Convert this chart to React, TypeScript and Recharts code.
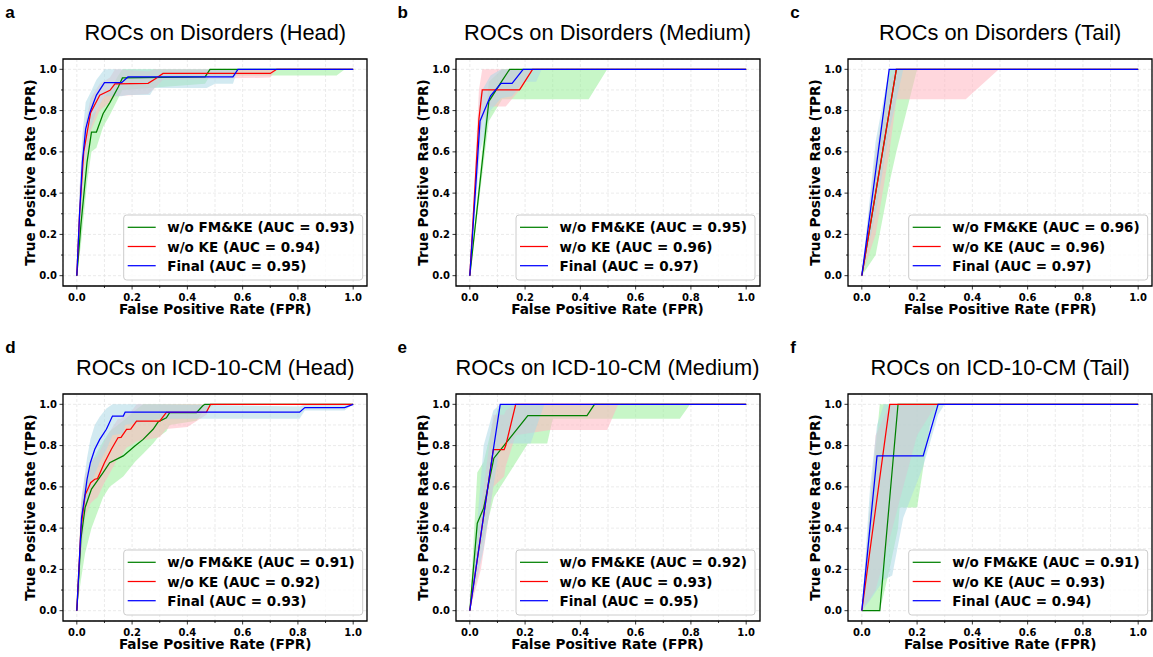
import {
  ComposedChart,
  Line,
  Area,
  XAxis,
  YAxis,
  CartesianGrid,
  ReferenceArea,
} from "recharts";

// each row: [fpr, mean tpr, lower band, upper band]
type Row = [number, number, number, number];

const aGreen: Row[] = [
  [0, 0, 0, 0], [0.015, 0.25, 0.15, 0.35], [0.037, 0.55, 0.45, 0.65], [0.053, 0.696, 0.6, 0.78],
  [0.071, 0.696, 0.62, 0.8], [0.095, 0.785, 0.72, 0.86], [0.12, 0.84, 0.78, 0.9], [0.15, 0.914, 0.86, 0.97],
  [0.165, 0.958, 0.9, 1], [0.464, 0.963, 0.93, 1], [0.482, 1, 0.97, 1], [0.94, 1, 0.97, 1],
  [0.97, 1, 1, 1], [1, 1, 1, 1],
];
const aRed: Row[] = [
  [0, 0, 0, 0], [0.01, 0.3, 0.2, 0.42], [0.025, 0.6, 0.5, 0.7], [0.05, 0.79, 0.7, 0.86],
  [0.083, 0.875, 0.8, 0.93], [0.12, 0.898, 0.84, 0.96], [0.138, 0.93, 0.87, 1], [0.258, 0.932, 0.88, 0.99],
  [0.283, 0.953, 0.91, 1], [0.312, 0.98, 0.95, 1], [0.7, 0.98, 0.96, 1], [0.723, 1, 1, 1], [1, 1, 1, 1],
];
const aBlue: Row[] = [
  [0, 0, 0, 0], [0.01, 0.3, 0.2, 0.42], [0.02, 0.55, 0.42, 0.68], [0.032, 0.71, 0.6, 0.84],
  [0.047, 0.79, 0.7, 0.88], [0.071, 0.875, 0.8, 0.95], [0.1, 0.935, 0.87, 1], [0.162, 0.935, 0.87, 1],
  [0.185, 0.963, 0.875, 1], [0.265, 0.963, 0.875, 1], [0.28, 0.963, 0.91, 1], [0.47, 0.963, 0.91, 1],
  [0.5, 0.963, 0.93, 1], [0.565, 0.963, 0.93, 1], [0.583, 1, 1, 1], [1, 1, 1, 1],
];

const bGreen: Row[] = [
  [0, 0, 0, 0], [0.069, 0.845, 0.75, 0.94], [0.117, 0.945, 0.855, 1], [0.144, 1, 0.855, 1],
  [0.43, 1, 0.855, 1], [0.497, 1, 1, 1], [1, 1, 1, 1],
];
const bRed: Row[] = [
  [0, 0, 0, 0], [0.033, 0.76, 0.6, 0.9], [0.045, 0.9, 0.75, 1], [0.075, 0.9, 0.82, 1],
  [0.13, 0.9, 0.82, 1], [0.18, 0.9, 0.9, 1], [0.227, 1, 1, 1], [1, 1, 1, 1],
];
const bBlue: Row[] = [
  [0, 0, 0, 0], [0.037, 0.75, 0.6, 0.88], [0.075, 0.872, 0.8, 0.97], [0.113, 0.932, 0.86, 1],
  [0.153, 0.932, 0.87, 1], [0.193, 1, 0.94, 1], [0.24, 1, 0.94, 1], [0.26, 1, 1, 1], [1, 1, 1, 1],
];

const cGreen: Row[] = [
  [0, 0, 0, 0], [0.05, 0.4, 0.1, 0.55], [0.1, 0.8, 0.45, 1], [0.125, 1, 0.6, 1],
  [0.2, 1, 1, 1], [1, 1, 1, 1],
];
const cRed: Row[] = [
  [0, 0, 0, 0], [0.05, 0.4, 0.2, 0.6], [0.1, 0.8, 0.6, 0.95], [0.125, 1, 0.855, 1],
  [0.376, 1, 0.855, 1], [0.496, 1, 1, 1], [1, 1, 1, 1],
];
const cBlue: Row[] = [
  [0, 0, 0, 0], [0.05, 0.505, 0.3, 0.65], [0.099, 1, 0.7, 1], [0.15, 1, 1, 1], [1, 1, 1, 1],
];

const dGreen: Row[] = [
  [0, 0, 0, 0], [0.015, 0.35, 0.15, 0.5], [0.03, 0.5, 0.28, 0.62], [0.053, 0.589, 0.4, 0.72],
  [0.095, 0.669, 0.55, 0.82], [0.119, 0.717, 0.6, 0.87], [0.168, 0.75, 0.65, 0.92], [0.21, 0.798, 0.72, 0.97],
  [0.24, 0.83, 0.76, 1], [0.276, 0.879, 0.81, 1], [0.294, 0.914, 0.84, 1], [0.324, 0.935, 0.87, 1],
  [0.336, 0.96, 0.9, 1], [0.433, 0.96, 0.92, 1], [0.455, 0.992, 0.96, 1], [0.463, 1, 0.97, 1],
  [0.5, 1, 1, 1], [1, 1, 1, 1],
];
const dRed: Row[] = [
  [0, 0, 0, 0], [0.015, 0.4, 0.28, 0.52], [0.03, 0.56, 0.45, 0.66], [0.05, 0.62, 0.52, 0.72],
  [0.065, 0.637, 0.54, 0.74], [0.075, 0.64, 0.55, 0.75], [0.1, 0.717, 0.62, 0.82], [0.125, 0.782, 0.68, 0.88],
  [0.149, 0.838, 0.74, 0.93], [0.16, 0.84, 0.75, 0.93], [0.18, 0.879, 0.79, 0.96], [0.195, 0.88, 0.8, 0.96],
  [0.216, 0.919, 0.82, 1], [0.3, 0.919, 0.84, 1], [0.324, 0.961, 0.88, 1], [0.4, 0.961, 0.89, 1],
  [0.469, 0.962, 0.95, 1], [0.484, 1, 1, 1], [1, 1, 1, 1],
];
const dBlue: Row[] = [
  [0, 0, 0, 0], [0.017, 0.45, 0.3, 0.55], [0.029, 0.556, 0.45, 0.66], [0.037, 0.637, 0.53, 0.74],
  [0.049, 0.717, 0.6, 0.83], [0.065, 0.782, 0.66, 0.9], [0.083, 0.83, 0.72, 0.94], [0.107, 0.879, 0.78, 0.98],
  [0.129, 0.943, 0.85, 1], [0.168, 0.943, 0.86, 1], [0.175, 0.962, 0.9, 1], [0.3, 0.962, 0.93, 1],
  [0.806, 0.962, 0.93, 0.99], [0.825, 0.984, 0.97, 1], [0.969, 0.984, 0.97, 1], [1, 1, 1, 1],
];

const eGreen: Row[] = [
  [0, 0, 0, 0], [0.027, 0.424, 0.25, 0.67], [0.05, 0.497, 0.35, 0.72], [0.087, 0.739, 0.55, 0.93],
  [0.111, 0.779, 0.6, 1], [0.21, 0.945, 0.81, 1], [0.28, 0.945, 0.81, 1], [0.3, 0.945, 0.93, 1],
  [0.424, 0.945, 0.93, 1], [0.451, 1, 0.93, 1], [0.76, 1, 0.93, 1], [0.797, 1, 1, 1], [1, 1, 1, 1],
];
const eRed: Row[] = [
  [0, 0, 0, 0], [0.04, 0.367, 0.2, 0.5], [0.085, 0.78, 0.6, 0.95], [0.124, 0.78, 0.65, 0.95],
  [0.13, 0.8, 0.7, 0.97], [0.166, 1, 0.85, 1], [0.29, 1, 0.876, 1], [0.497, 1, 0.876, 1],
  [0.537, 1, 1, 1], [1, 1, 1, 1],
];
const eBlue: Row[] = [
  [0, 0, 0, 0], [0.05, 0.46, 0.3, 0.8], [0.085, 0.78, 0.6, 0.97], [0.11, 1, 0.81, 1],
  [0.22, 1, 0.81, 1], [0.27, 1, 1, 1], [1, 1, 1, 1],
];

const fGreen: Row[] = [
  [0, 0, 0, 0], [0.03, 0, 0, 0.5], [0.065, 0, 0, 1], [0.1, 0.53, 0.2, 1], [0.131, 1, 0.4, 1],
  [0.137, 1, 0.5, 1], [0.2, 1, 0.5, 1], [0.246, 1, 0.9, 1], [0.28, 1, 1, 1], [1, 1, 1, 1],
];
const fRed: Row[] = [
  [0, 0, 0, 0], [0.05, 0.495, 0.1, 0.85], [0.101, 1, 0.35, 1], [0.15, 1, 0.6, 1],
  [0.2, 1, 0.85, 1], [0.27, 1, 1, 1], [1, 1, 1, 1],
];
const fBlue: Row[] = [
  [0, 0, 0, 0], [0.03, 0.41, 0.05, 0.6], [0.055, 0.75, 0.1, 0.9], [0.08, 0.75, 0.15, 1],
  [0.11, 0.75, 0.17, 1], [0.15, 0.75, 0.45, 1], [0.222, 0.75, 0.7, 1], [0.276, 1, 0.95, 1],
  [0.3, 1, 1, 1], [1, 1, 1, 1],
];

const aAuc = ["0.93", "0.94", "0.95"];
const bAuc = ["0.95", "0.96", "0.97"];
const cAuc = ["0.96", "0.96", "0.97"];
const dAuc = ["0.91", "0.92", "0.93"];
const eAuc = ["0.92", "0.93", "0.95"];
const fAuc = ["0.91", "0.93", "0.94"];

const seriesNames = ["w/o FM&KE", "w/o KE", "Final"];
const lineColors = ["#008000", "#ff0000", "#0000ff"];
const bandColors = ["#90ee90", "#ffb6c1", "#add8e6"];
const bandOpacity = [0.5, 0.55, 0.55];

const TICKS = [0, 0.1, 0.2, 0.3, 0.4, 0.5, 0.6, 0.7, 0.8, 0.9, 1];
const DOMAIN: [number, number] = [-0.05, 1.05];

// chart geometry (plot area is PLOT_W x PLOT_H)
const PAD_L = 60;
const PAD_T = 50;
const PAD_R = 26;
const PAD_B = 30;
const PLOT_W = 304;
const PLOT_H = 227;

const TICK_FONT = "'DejaVu Sans', sans-serif";
const TITLE_FONT = "'Liberation Sans', Arial, sans-serif";

function toPoints(rows: Row[]) {
  return rows.map(([x, y, lo, hi]) => ({ x, y, band: [lo, hi] }));
}

function isMajor(v: number) {
  return Math.round(v * 10) % 2 === 0;
}

// eslint-disable-next-line @typescript-eslint/no-explicit-any
function XTick({ x, y, payload }: any) {
  const major = isMajor(payload.value);
  return (
    <g>
      <line x1={x} x2={x} y1={y} y2={y + (major ? 3.5 : 2)} stroke="#000" strokeWidth={0.8} />
      {major && (
        <text x={x} y={y + 15} textAnchor="middle" fontFamily={TICK_FONT} fontWeight="bold" fontSize={10} fill="#000">
          {payload.value.toFixed(1)}
        </text>
      )}
    </g>
  );
}

// eslint-disable-next-line @typescript-eslint/no-explicit-any
function YTick({ x, y, payload }: any) {
  const major = isMajor(payload.value);
  return (
    <g>
      <line x1={x} x2={x - (major ? 3.5 : 2)} y1={y} y2={y} stroke="#000" strokeWidth={0.8} />
      {major && (
        <text x={x - 6} y={y + 3.6} textAnchor="end" fontFamily={TICK_FONT} fontWeight="bold" fontSize={10} fill="#000">
          {payload.value.toFixed(1)}
        </text>
      )}
    </g>
  );
}

interface PanelProps {
  left: number; // plot area left, page px
  top: number; // plot area top, page px
  series: Row[][];
}

function RocPanel({ left, top, series }: PanelProps) {
  const pts = series.map(toPoints);
  return (
    <div style={{ position: "absolute", left: left - PAD_L, top: top - PAD_T }}>
      <ComposedChart
        width={PAD_L + PLOT_W + PAD_R}
        height={PAD_T + PLOT_H + PAD_B}
        margin={{ top: PAD_T, right: PAD_R, bottom: 0, left: 0 }}
      >
        <CartesianGrid stroke="#e2e2e2" strokeDasharray="3 2" strokeWidth={0.7} />
        <XAxis
          type="number"
          dataKey="x"
          domain={DOMAIN}
          ticks={TICKS}
          allowDataOverflow
          height={PAD_B}
          axisLine={false}
          tickLine={false}
          tickSize={0}
          tickMargin={0}
          tick={XTick}
          interval={0}
        />
        <YAxis
          type="number"
          domain={DOMAIN}
          ticks={TICKS}
          allowDataOverflow
          width={PAD_L}
          axisLine={false}
          tickLine={false}
          tickSize={0}
          tickMargin={0}
          tick={YTick}
          interval={0}
        />
        {pts.map((p, i) => (
          <Area
            key={`band-${i}`}
            data={p}
            dataKey="band"
            type="linear"
            stroke="none"
            fill={bandColors[i]}
            fillOpacity={bandOpacity[i]}
            dot={false}
            activeDot={false}
            isAnimationActive={false}
          />
        ))}
        {pts.map((p, i) => (
          <Line
            key={`line-${i}`}
            data={p}
            dataKey="y"
            type="linear"
            stroke={lineColors[i]}
            strokeWidth={1.25}
            dot={false}
            activeDot={false}
            isAnimationActive={false}
          />
        ))}
        <ReferenceArea
          x1={-0.05}
          x2={1.05}
          y1={-0.05}
          y2={1.05}
          fill="none"
          stroke="#000"
          strokeWidth={1.3}
          ifOverflow="visible"
        />
      </ComposedChart>
    </div>
  );
}

function PanelText({ left, top, letter, title, aucs }: { left: number; top: number; letter: string; title: string; aucs: string[] }) {
  const cx = left + PLOT_W / 2;
  const cy = top + PLOT_H / 2;
  const bottom = top + PLOT_H;
  const boxW = 239;
  const boxH = 65;
  const bx = left + PLOT_W - 4.5 - boxW;
  const by = bottom - 6 - boxH;
  return (
    <g>
      <text x={left - 58} y={top - 41} fontFamily={TITLE_FONT} fontWeight="bold" fontSize={17}>
        {letter}
      </text>
      <text x={cx} y={top - 19} textAnchor="middle" fontFamily={TITLE_FONT} fontSize={21.8}>
        {title}
      </text>
      <text x={cx} y={bottom + 28} textAnchor="middle" fontFamily={TICK_FONT} fontWeight="bold" fontSize={13.6}>
        False Positive Rate (FPR)
      </text>
      <text
        x={left - 28}
        y={cy}
        textAnchor="middle"
        transform={`rotate(-90 ${left - 28} ${cy})`}
        fontFamily={TICK_FONT}
        fontWeight="bold"
        fontSize={13.6}
      >
        True Positive Rate (TPR)
      </text>
      <rect x={bx} y={by} width={boxW} height={boxH} rx={3} fill="#fff" fillOpacity={0.8} stroke="#cccccc" strokeWidth={1} />
      {seriesNames.map((name, i) => {
        const ry = by + 12.3 + i * 19.2;
        return (
          <g key={name}>
            <line x1={bx + 4} x2={bx + 32} y1={ry} y2={ry} stroke={lineColors[i]} strokeWidth={1.25} />
            <text x={bx + 43.5} y={ry + 5} fontFamily={TICK_FONT} fontWeight="bold" fontSize={13.5}>
              {`${name} (AUC = ${aucs[i]})`}
            </text>
          </g>
        );
      })}
    </g>
  );
}

const COLS = [63.2, 455.5, 848.2];
const ROWS = [59, 394];

const panels = [
  { letter: "a", title: "ROCs on Disorders (Head)", series: [aGreen, aRed, aBlue], aucs: aAuc, c: 0, r: 0 },
  { letter: "b", title: "ROCs on Disorders (Medium)", series: [bGreen, bRed, bBlue], aucs: bAuc, c: 1, r: 0 },
  { letter: "c", title: "ROCs on Disorders (Tail)", series: [cGreen, cRed, cBlue], aucs: cAuc, c: 2, r: 0 },
  { letter: "d", title: "ROCs on ICD-10-CM (Head)", series: [dGreen, dRed, dBlue], aucs: dAuc, c: 0, r: 1 },
  { letter: "e", title: "ROCs on ICD-10-CM (Medium)", series: [eGreen, eRed, eBlue], aucs: eAuc, c: 1, r: 1 },
  { letter: "f", title: "ROCs on ICD-10-CM (Tail)", series: [fGreen, fRed, fBlue], aucs: fAuc, c: 2, r: 1 },
];

export default function App() {
  return (
    <div style={{ position: "absolute", left: 0, top: 0, width: 1153, height: 657, background: "#fff", overflow: "hidden" }}>
      {panels.map((p) => (
        <RocPanel key={p.letter} left={COLS[p.c]} top={ROWS[p.r]} series={p.series} />
      ))}
      <svg width={1153} height={657} style={{ position: "absolute", left: 0, top: 0, pointerEvents: "none" }}>
        {panels.map((p) => (
          <PanelText key={p.letter} left={COLS[p.c]} top={ROWS[p.r]} letter={p.letter} title={p.title} aucs={p.aucs} />
        ))}
      </svg>
    </div>
  );
}
